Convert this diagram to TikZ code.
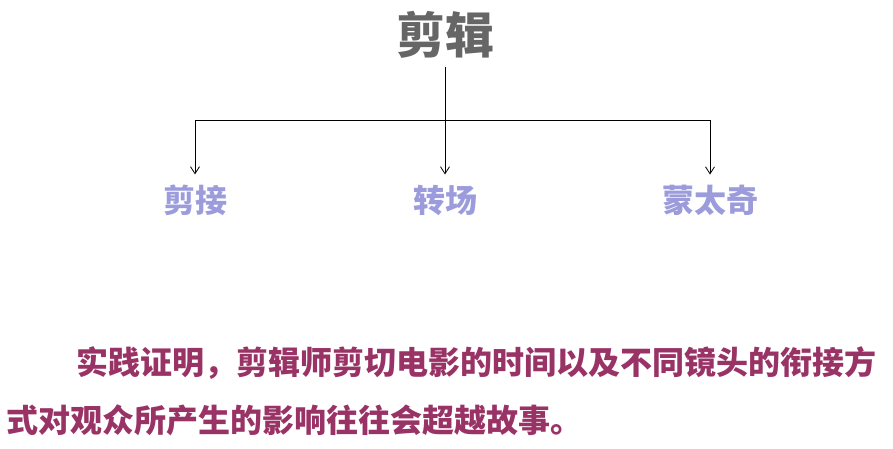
\documentclass[tikz,border=0pt]{standalone}
\usepackage{fontspec}
\setmainfont{Noto Sans CJK SC}
\usetikzlibrary{arrows.meta}
\definecolor{titlegray}{HTML}{666666}
\definecolor{childblue}{HTML}{9C9CDC}
\definecolor{plum}{HTML}{993366}
\begin{document}
\begin{tikzpicture}[x=1pt,y=-1pt,
  titlebox/.style={inner sep=0pt,text=titlegray,font=\bfseries\fontsize{49}{49}\selectfont},
  childbox/.style={inner sep=0pt,text=childblue,font=\bfseries\fontsize{32}{32}\selectfont},
  parabox/.style={inner sep=0pt,anchor=west,text=plum,font=\bfseries\fontsize{32}{32}\selectfont},
  conn/.style={line width=0.8pt,black},
  arr/.style={conn,-{Straight Barb[length=7pt,width=9pt]},shorten >=10pt}]
\useasboundingbox (0,0) rectangle (893,449);
\node[titlebox] (title) at (445,35) {剪辑};
\coordinate (top) at (445,67);
\coordinate (j) at (445,120);
\node[childbox] (c1) at (195,200) {剪接};
\node[childbox] (c2) at (445,200) {转场};
\node[childbox] (c3) at (710,200) {蒙太奇};
\draw[conn] (top) -- (j);
\draw[arr] (j) -| (c1.north);
\draw[arr] (j) -- (c2.north);
\draw[arr] (j) -| (c3.north);
\node[parabox] (p1) at (76,363) {实践证明，剪辑师剪切电影的时间以及不同镜头的衔接方};
\node[parabox] (p2) at (6,420) {式对观众所产生的影响往往会超越故事。};
\end{tikzpicture}
\end{document}
